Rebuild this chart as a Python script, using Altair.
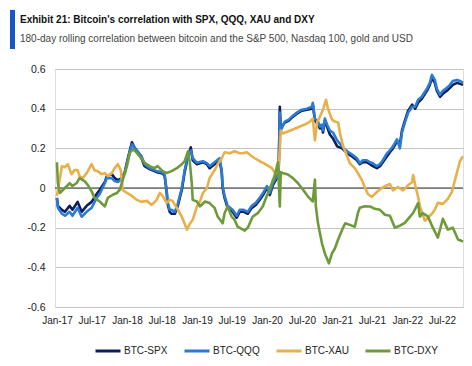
import altair as alt
import pandas as pd

# ---- data ----
eq_dates = [
    "2017-01-01", "2017-01-06", "2017-01-27", "2017-02-12", "2017-03-08", "2017-03-23", "2017-04-19", "2017-05-10",
    "2017-06-05", "2017-07-01", "2017-07-27", "2017-08-12", "2017-09-08", "2017-09-18", "2017-10-14", "2017-10-29",
    "2017-11-15", "2017-12-05", "2017-12-21", "2018-01-06", "2018-01-27", "2018-02-22", "2018-03-18", "2018-04-03",
    "2018-04-29", "2018-06-05", "2018-07-01", "2018-07-16", "2018-07-27", "2018-08-01", "2018-08-12", "2018-08-22",
    "2018-09-08", "2018-09-23", "2018-10-14", "2018-10-29", "2018-11-15", "2018-11-30", "2018-12-10", "2019-01-01",
    "2019-02-01", "2019-02-22", "2019-03-08", "2019-04-03", "2019-04-29", "2019-05-10", "2019-05-15", "2019-05-25",
    "2019-06-10", "2019-07-06", "2019-07-27", "2019-08-12", "2019-09-02", "2019-09-23", "2019-10-14", "2019-11-04",
    "2019-11-24", "2019-12-15", "2020-01-01", "2020-01-16", "2020-02-01", "2020-02-22", "2020-03-02", "2020-03-08",
    "2020-03-13", "2020-04-03", "2020-04-24", "2020-05-10", "2020-06-05", "2020-07-01", "2020-07-27", "2020-08-22",
    "2020-08-27", "2020-09-07", "2020-09-23", "2020-10-03", "2020-10-14", "2020-10-19", "2020-10-29", "2020-11-09",
    "2020-11-24", "2020-12-10", "2021-01-01", "2021-01-27", "2021-02-22", "2021-03-18", "2021-04-14", "2021-04-29",
    "2021-05-15", "2021-06-05", "2021-06-21", "2021-07-06", "2021-07-27", "2021-08-12", "2021-08-27", "2021-09-18",
    "2021-10-03", "2021-10-19", "2021-11-09", "2021-11-24", "2021-12-05", "2021-12-20", "2022-01-06", "2022-01-27",
    "2022-02-12", "2022-02-27", "2022-03-18", "2022-04-14", "2022-04-29", "2022-05-10", "2022-05-25", "2022-06-05",
    "2022-06-21", "2022-07-06", "2022-07-27", "2022-08-12", "2022-08-27", "2022-09-18", "2022-10-03", "2022-10-19",
]
spx_vals = [
    -0.05, -0.09, -0.11, -0.12, -0.09, -0.11, -0.07, -0.12, -0.09, -0.07,
    -0.03, -0.01, 0.03, 0.06, 0.07, 0.05, 0.04, 0.05, 0.08, 0.15,
    0.23, 0.18, 0.15, 0.11, 0.095, 0.08, 0.075, 0.065, -0.02, -0.08,
    -0.12, -0.13, -0.13, -0.09, -0.01, 0.08, 0.16, 0.205, 0.14, 0.12,
    0.13, 0.12, 0.10, 0.12, 0.14, 0.08, 0.0, -0.05, -0.10, -0.12,
    -0.15, -0.12, -0.12, -0.13, -0.10, -0.085, -0.06, -0.03, 0.0, -0.035,
    0.015, 0.05, 0.08, 0.41, 0.30, 0.33, 0.34, 0.355, 0.375, 0.39,
    0.395, 0.40, 0.42, 0.34, 0.32, 0.30, 0.31, 0.28, 0.34, 0.31,
    0.27, 0.25, 0.21, 0.20, 0.175, 0.16, 0.14, 0.12, 0.13, 0.13,
    0.12, 0.11, 0.10, 0.11, 0.13, 0.16, 0.18, 0.20, 0.235, 0.22,
    0.29, 0.34, 0.39, 0.42, 0.40, 0.43, 0.45, 0.49, 0.52, 0.555,
    0.53, 0.49, 0.46, 0.475, 0.49, 0.505, 0.52, 0.53, 0.525, 0.52,
]
qqq_vals = [
    -0.05, -0.10, -0.13, -0.14, -0.12, -0.14, -0.10, -0.145, -0.12, -0.10,
    -0.05, -0.03, 0.025, 0.05, 0.05, 0.035, 0.03, 0.045, 0.076, 0.144,
    0.22, 0.19, 0.16, 0.12, 0.10, 0.085, 0.08, 0.07, -0.01, -0.07,
    -0.11, -0.11, -0.12, -0.08, 0.0, 0.09, 0.16, 0.19, 0.15, 0.127,
    0.135, 0.125, 0.11, 0.13, 0.15, 0.09, 0.01, -0.04, -0.09, -0.11,
    -0.14, -0.11, -0.11, -0.12, -0.09, -0.075, -0.05, -0.02, 0.01, -0.025,
    0.025, 0.06, 0.09, 0.38, 0.29, 0.335, 0.345, 0.36, 0.38, 0.395,
    0.40, 0.41, 0.43, 0.35, 0.335, 0.31, 0.32, 0.29, 0.35, 0.32,
    0.29, 0.28, 0.24, 0.21, 0.185, 0.17, 0.15, 0.125, 0.14, 0.14,
    0.13, 0.125, 0.11, 0.12, 0.14, 0.175, 0.19, 0.21, 0.245, 0.20,
    0.28, 0.33, 0.38, 0.41, 0.41, 0.445, 0.46, 0.50, 0.53, 0.57,
    0.545, 0.50, 0.47, 0.49, 0.505, 0.52, 0.54, 0.545, 0.54, 0.53,
]

xau_dates = [
    "2017-01-01", "2017-01-27", "2017-02-12", "2017-02-27", "2017-03-18", "2017-04-03", "2017-04-19", "2017-04-29",
    "2017-05-15", "2017-06-05", "2017-07-01", "2017-07-16", "2017-08-01", "2017-08-22", "2017-09-08", "2017-09-23",
    "2017-10-14", "2017-10-29", "2017-11-15", "2017-11-30", "2017-12-10", "2018-01-01", "2018-01-27", "2018-02-22",
    "2018-03-18", "2018-04-14", "2018-05-10", "2018-06-05", "2018-06-21", "2018-07-06", "2018-07-27", "2018-08-12",
    "2018-08-27", "2018-09-18", "2018-10-14", "2018-10-29", "2018-11-10", "2018-11-25", "2018-12-10", "2019-01-01",
    "2019-01-16", "2019-02-01", "2019-02-22", "2019-03-08", "2019-04-03", "2019-04-19", "2019-05-10", "2019-05-25",
    "2019-06-21", "2019-07-16", "2019-08-12", "2019-08-27", "2019-09-18", "2019-10-14", "2019-10-29", "2019-11-24",
    "2019-12-15", "2020-01-01", "2020-01-27", "2020-02-12", "2020-02-27", "2020-03-08", "2020-03-13", "2020-03-23",
    "2020-04-19", "2020-05-15", "2020-06-21", "2020-07-16", "2020-08-12", "2020-08-27", "2020-09-07", "2020-09-18",
    "2020-10-03", "2020-10-19", "2020-11-04", "2020-11-14", "2020-12-05", "2020-12-20", "2021-01-06", "2021-01-16",
    "2021-02-01", "2021-02-22", "2021-03-08", "2021-04-03", "2021-04-19", "2021-05-10", "2021-05-25", "2021-06-10",
    "2021-07-01", "2021-07-27", "2021-08-22", "2021-09-18", "2021-10-03", "2021-10-19", "2021-11-14", "2021-12-10",
    "2022-01-06", "2022-01-27", "2022-02-01", "2022-02-12", "2022-02-27", "2022-03-08", "2022-04-03", "2022-04-19",
    "2022-05-10", "2022-05-25", "2022-06-10", "2022-07-06", "2022-08-01", "2022-08-22", "2022-09-07", "2022-09-18",
    "2022-10-03", "2022-10-19",
]
xau_vals = [
    -0.04, 0.11, 0.105, 0.12, 0.07, 0.09, 0.09, 0.06,
    0.05, 0.075, 0.12, 0.09, 0.085, 0.07, 0.075, 0.06,
    0.075, 0.10, 0.12, 0.09, -0.01, -0.025, -0.04, -0.06,
    -0.07, -0.065, -0.085, -0.06, -0.025, -0.04, -0.075, -0.06,
    -0.065, -0.10, -0.145, -0.18, -0.21, -0.18, -0.16, -0.093,
    -0.07, -0.025, 0.0, 0.05, 0.09, 0.12, 0.15, 0.18,
    0.175, 0.185, 0.175, 0.175, 0.18, 0.16, 0.15, 0.135,
    0.125, 0.115, 0.10, 0.075, 0.075, 0.19, 0.29, 0.275,
    0.285, 0.295, 0.31, 0.32, 0.335, 0.35, 0.24, 0.33,
    0.36, 0.395, 0.445, 0.40, 0.345, 0.335, 0.33, 0.275,
    0.21, 0.16, 0.125, 0.10, 0.075, 0.04, 0.005, -0.03,
    -0.045, -0.02, 0.0, 0.014, 0.02, -0.012, 0.005, -0.012,
    0.014, 0.03, 0.065, 0.014, -0.045, -0.09, -0.165, -0.15,
    -0.13, -0.11, -0.075, -0.08, -0.055, -0.02, 0.04, 0.08,
    0.135, 0.16,
]

dxy_dates = [
    "2017-01-01", "2017-01-06", "2017-01-16", "2017-02-01", "2017-02-22", "2017-03-08", "2017-03-23", "2017-04-14",
    "2017-04-29", "2017-05-25", "2017-06-10", "2017-07-01", "2017-07-16", "2017-08-12", "2017-09-08", "2017-09-23",
    "2017-10-19", "2017-11-10", "2017-11-25", "2017-12-10", "2018-01-01", "2018-01-16", "2018-02-01", "2018-02-22",
    "2018-03-08", "2018-04-03", "2018-04-29", "2018-05-25", "2018-06-10", "2018-07-06", "2018-07-27", "2018-08-22",
    "2018-09-18", "2018-10-14", "2018-10-29", "2018-11-15", "2018-11-25", "2018-12-05", "2018-12-10", "2019-01-01",
    "2019-01-16", "2019-02-12", "2019-03-08", "2019-04-03", "2019-04-19", "2019-05-15", "2019-05-25", "2019-06-10",
    "2019-07-01", "2019-07-16", "2019-08-01", "2019-09-07", "2019-09-23", "2019-10-19", "2019-11-14", "2019-12-10",
    "2020-01-06", "2020-01-27", "2020-02-12", "2020-02-27", "2020-03-08", "2020-03-13", "2020-03-23", "2020-04-19",
    "2020-05-15", "2020-06-10", "2020-07-06", "2020-08-01", "2020-08-27", "2020-09-07", "2020-09-12", "2020-09-23",
    "2020-10-14", "2020-10-29", "2020-11-19", "2020-12-05", "2020-12-20", "2021-01-06", "2021-01-27", "2021-02-12",
    "2021-03-08", "2021-04-03", "2021-04-19", "2021-04-29", "2021-05-25", "2021-06-21", "2021-07-16", "2021-08-12",
    "2021-09-07", "2021-10-03", "2021-10-29", "2021-11-24", "2021-12-20", "2022-01-16", "2022-02-01", "2022-02-27",
    "2022-03-08", "2022-03-23", "2022-04-19", "2022-05-15", "2022-06-10", "2022-07-06", "2022-08-01", "2022-08-27",
    "2022-09-23", "2022-10-19",
]
dxy_vals = [
    0.13, 0.025, -0.025, -0.01, 0.01, 0.025, 0.01, 0.025,
    0.05, 0.035, 0.017, -0.017, -0.05, -0.068, -0.093, -0.05,
    -0.034, -0.025, -0.008, 0.04, 0.11, 0.178, 0.195, 0.178,
    0.16, 0.127, 0.11, 0.10, 0.11, 0.085, 0.076, 0.085,
    0.10, 0.12, 0.135, 0.185, 0.127, 0.025, -0.06, -0.068,
    -0.093, -0.068, -0.076, -0.10, -0.144, -0.178, -0.127, -0.093,
    -0.144, -0.16, -0.195, -0.215, -0.20, -0.144, -0.127, -0.093,
    -0.025, 0.025, 0.068, 0.13, -0.093, 0.08, 0.076, 0.068,
    0.05, 0.025, -0.008, -0.042, -0.068, 0.042, -0.093, -0.178,
    -0.28, -0.33, -0.38, -0.33, -0.305, -0.26, -0.21, -0.178,
    -0.186, -0.195, -0.126, -0.10, -0.092, -0.093, -0.105, -0.11,
    -0.135, -0.14, -0.20, -0.19, -0.176, -0.144, -0.126, -0.076,
    -0.144, -0.127, -0.143, -0.20, -0.25, -0.155, -0.21, -0.20,
    -0.26, -0.27,
]

series_names = ["BTC-SPX", "BTC-QQQ", "BTC-XAU", "BTC-DXY"]
series_colors = ["#0b1f5c", "#2b7bd3", "#e8b04a", "#6e9a3a"]
y_ticks = [-0.6, -0.4, -0.2, 0, 0.2, 0.4, 0.6]

title_text = "Exhibit 21: Bitcoin's correlation with SPX, QQQ, XAU and DXY"
subtitle_text = "180-day rolling correlation between bitcoin and the S&P 500, Nasdaq 100, gold and USD"

# ---- build table ----
parts = []
for name, d, v in [
    ("BTC-SPX", eq_dates, spx_vals),
    ("BTC-QQQ", eq_dates, qqq_vals),
    ("BTC-XAU", xau_dates, xau_vals),
    ("BTC-DXY", dxy_dates, dxy_vals),
]:
    parts.append(pd.DataFrame({"date": d, "value": v, "series": name}))
df = pd.concat(parts, ignore_index=True)

tick_dates = []
for yr in range(2017, 2023):
    tick_dates.append(alt.DateTime(year=yr, month=1, date=1))
    tick_dates.append(alt.DateTime(year=yr, month=7, date=1))

FONT = "Liberation Sans, Arial, sans-serif"
y_scale = alt.Scale(domain=[-0.6, 0.6], nice=False)

y_axis = alt.Axis(values=y_ticks, tickCount=len(y_ticks), title=None, grid=True,
                  gridColor="#c4c4c4", gridWidth=1,
                  domain=False, ticks=False, tickSize=0, labelPadding=10, labelFontSize=10.5,
                  labelFont=FONT, labelColor="#222", labelOverlap=False,
                  labelExpr="datum.value == 0 ? '0' : toString(datum.value)")

x_enc = alt.X(
    "date:T",
    scale=alt.Scale(domain=[alt.DateTime(year=2016, month=12, date=22),
                            alt.DateTime(year=2022, month=10, date=19)]),
    axis=alt.Axis(values=tick_dates, tickCount=len(tick_dates), format="%b-%y", title=None,
                  grid=False, domain=False,
                  ticks=False, tickSize=0, labelPadding=8, labelFontSize=10, labelFont=FONT,
                  labelColor="#222", labelFlush=False, labelOverlap=False),
)

zero = alt.Chart(pd.DataFrame({"z": [0]})).mark_rule(color="#333333", strokeWidth=1).encode(
    y=alt.Y("z:Q", scale=y_scale, axis=y_axis)
)

lines = alt.Chart(df).mark_line(strokeWidth=2.6, strokeJoin="round").encode(
    x=x_enc,
    y=alt.Y("value:Q", scale=y_scale, axis=y_axis),
    color=alt.Color(
        "series:N",
        scale=alt.Scale(domain=series_names, range=series_colors),
        sort=series_names,
        legend=alt.Legend(title=None, orient="none", legendX=39, legendY=268, direction="horizontal",
                          symbolType="stroke", symbolSize=625, symbolStrokeWidth=3,
                          labelFont=FONT, labelFontSize=10, labelColor="#222", labelOffset=2,
                          columnPadding=10, padding=0),
    ),
)

header = alt.Chart(pd.DataFrame({"a": [0]}))
accent = header.mark_rect(color="#1456c8").encode(
    x=alt.value(-45), x2=alt.value(-40), y=alt.value(-59), y2=alt.value(-20)
)
title_mark = header.mark_text(align="left", baseline="alphabetic", font=FONT, fontSize=10,
                              fontWeight="bold", color="#111111").encode(
    x=alt.value(-35), y=alt.value(-46), text=alt.value(title_text)
)
subtitle_mark = header.mark_text(align="left", baseline="alphabetic", font=FONT, fontSize=10,
                                 color="#444444").encode(
    x=alt.value(-35), y=alt.value(-27), text=alt.value(subtitle_text)
)

chart = alt.layer(zero, lines, accent, title_mark, subtitle_mark).properties(
    width=408,
    height=238,
    autosize="none",
    padding={"left": 47, "top": 61, "right": 1, "bottom": 50},
).configure_view(stroke=None).configure(background="white")

chart.save("out.html", embed_options={"renderer": "svg", "actions": False})
